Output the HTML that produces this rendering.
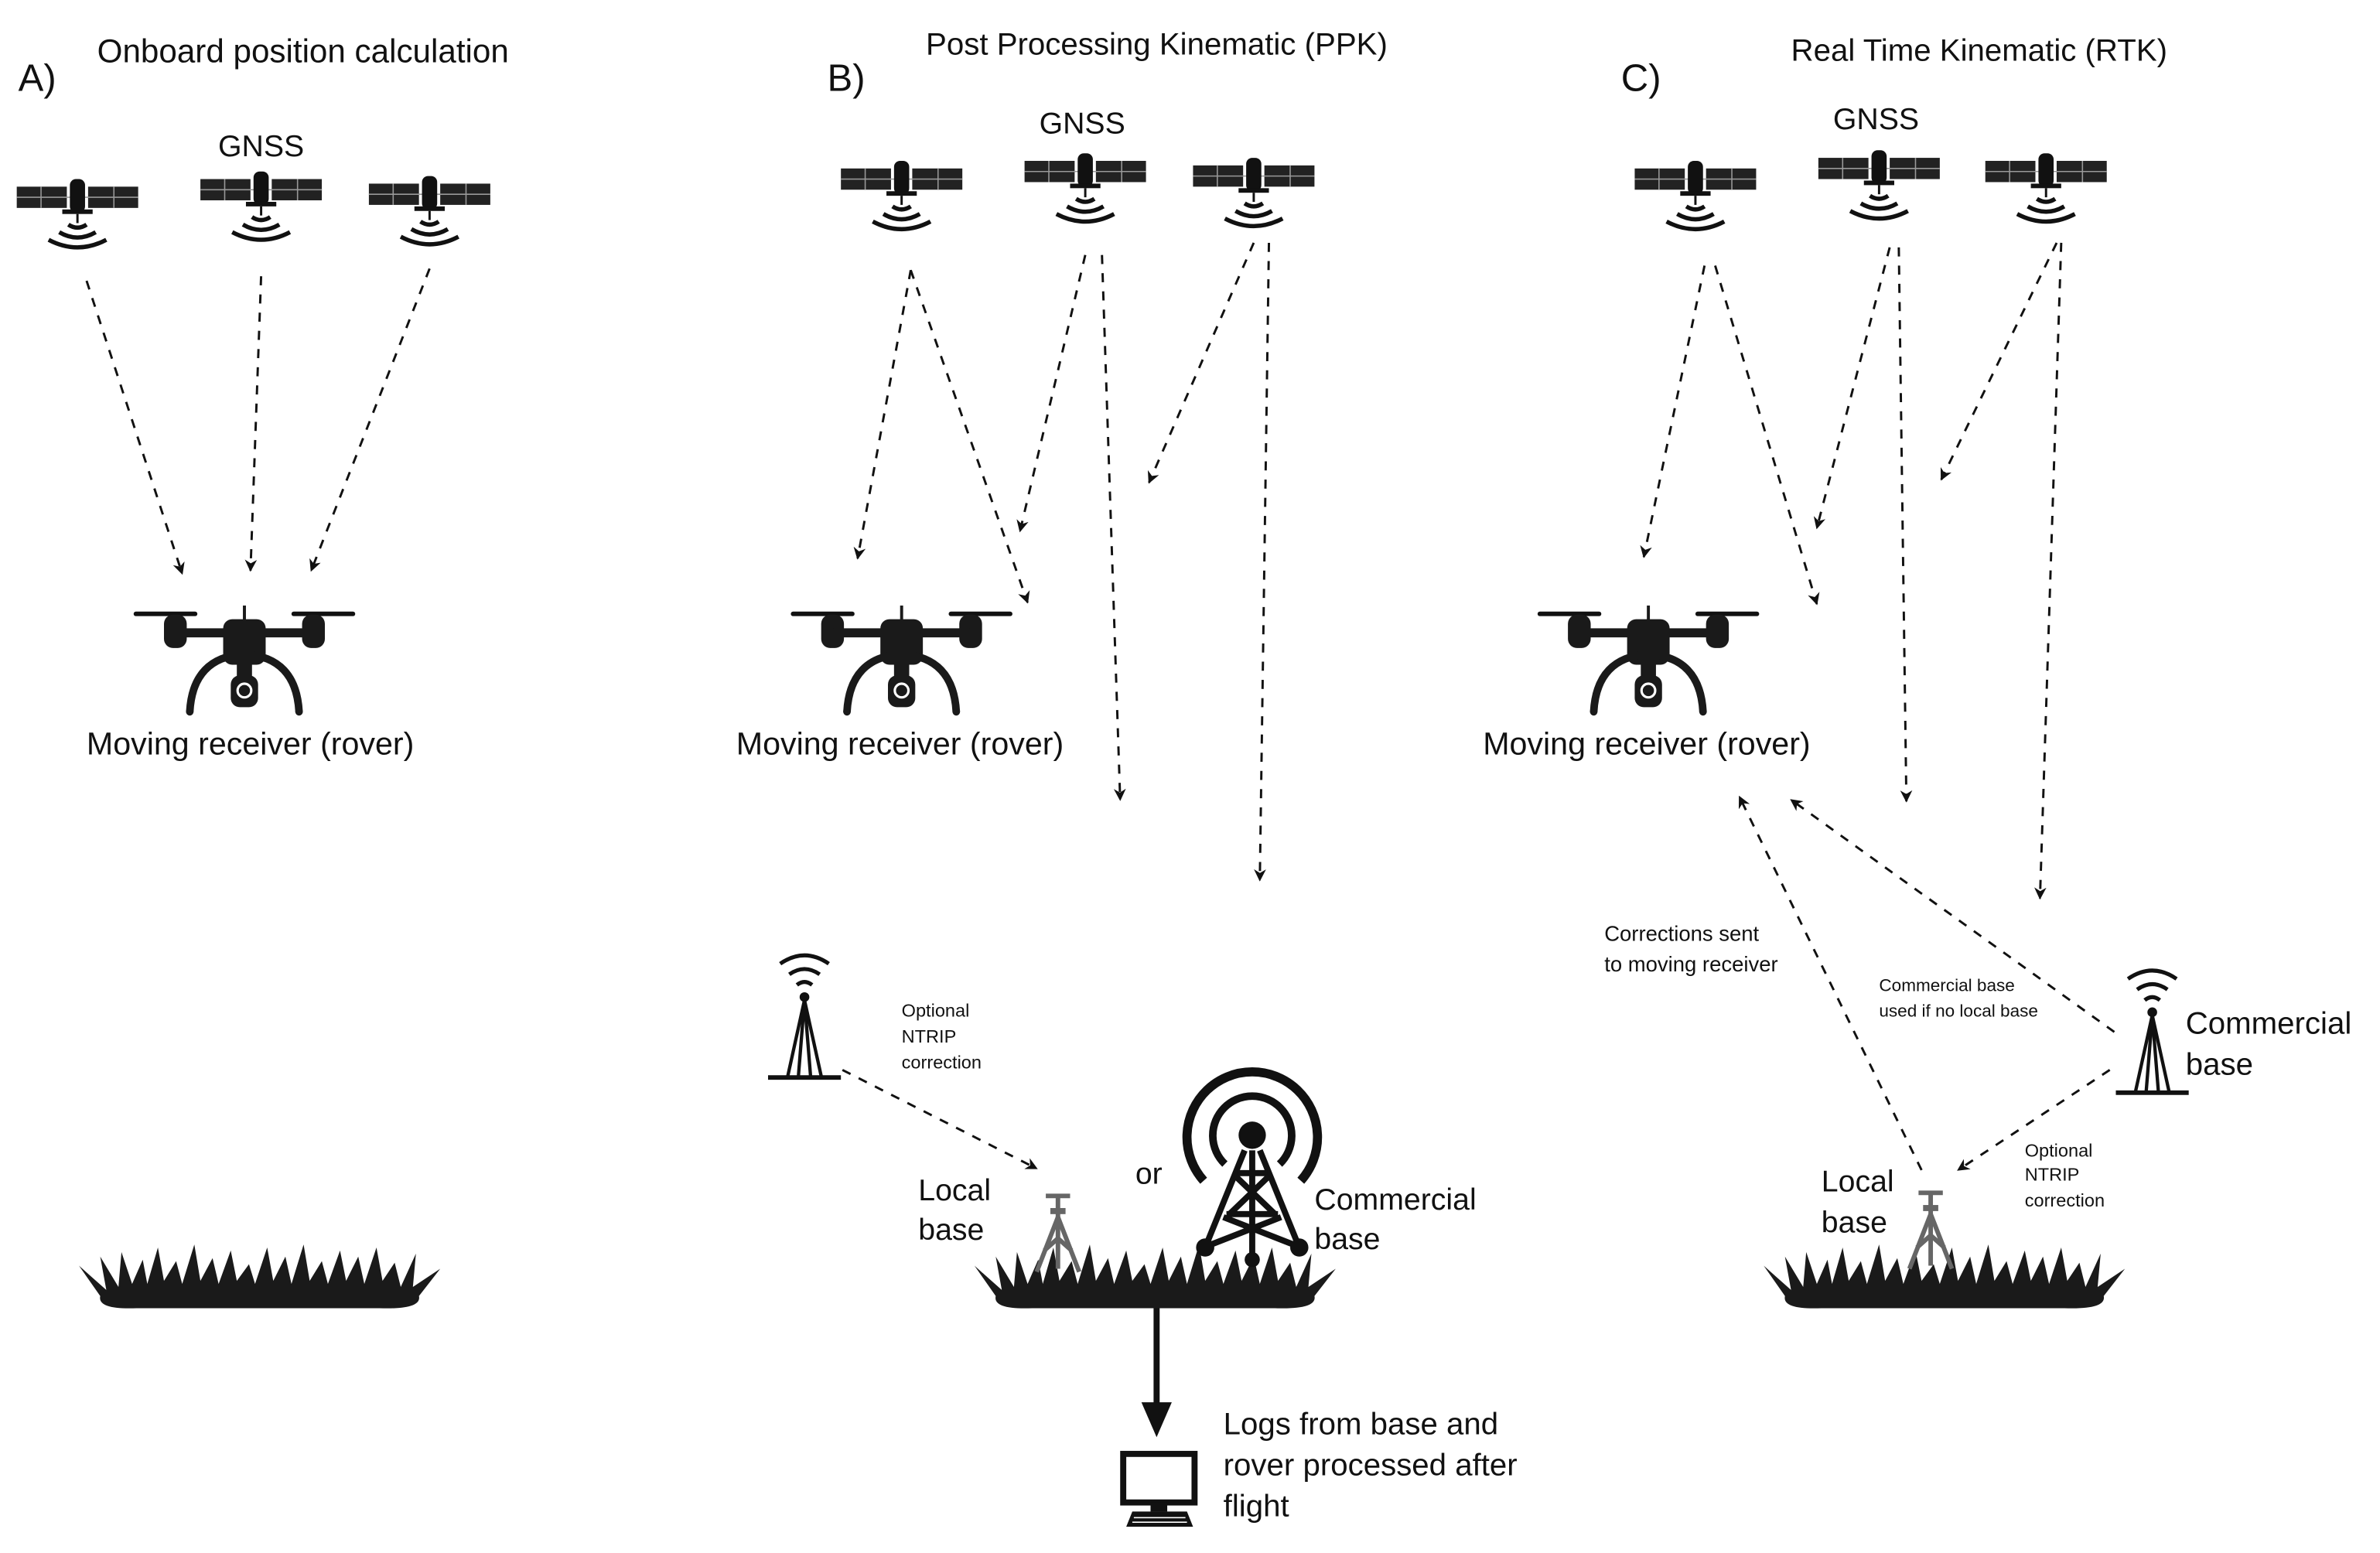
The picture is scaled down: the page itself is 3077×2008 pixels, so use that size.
<!DOCTYPE html>
<html><head><meta charset="utf-8"><style>
html,body{margin:0;padding:0;background:#fff;}
svg{display:block;}
text{font-family:"Liberation Sans",sans-serif;fill:#111;}
</style></head><body>
<svg width="3077" height="2008" viewBox="0 0 1568 1023.3" xmlns="http://www.w3.org/2000/svg">
<defs>
<marker id="ah" viewBox="0 0 10 10" refX="9" refY="5" markerWidth="8" markerHeight="8" orient="auto" markerUnits="userSpaceOnUse">
<path d="M0,0 L10,5 L0,10 L3,5 Z" fill="#111"/></marker>
<g id="sat">
<rect x="-40" y="-7" width="33" height="14" fill="#222"/>
<rect x="7" y="-7" width="33" height="14" fill="#222"/>
<line x1="-40" y1="0" x2="40" y2="0" stroke="#999" stroke-width="0.8"/>
<line x1="-24" y1="-7" x2="-24" y2="7" stroke="#999" stroke-width="0.8"/>
<line x1="24" y1="-7" x2="24" y2="7" stroke="#999" stroke-width="0.8"/>
<rect x="-5" y="-12" width="10" height="22" rx="4" fill="#111"/>
<rect x="-10" y="8" width="20" height="3" fill="#111"/>
<line x1="0" y1="11" x2="0" y2="17" stroke="#111" stroke-width="1.5"/>
<g fill="none" stroke="#111" stroke-width="2.8">
<path d="M-6,18 Q0,22 6,18"/><path d="M-12,23 Q0,30 12,23"/><path d="M-19,28 Q0,38 19,28"/></g>
</g>
<g id="drone">
<rect x="-73" y="-2" width="42" height="3" rx="1.5" fill="#111"/>
<rect x="31" y="-2" width="42" height="3" rx="1.5" fill="#111"/>
<rect x="-53" y="0" width="15" height="22" rx="6" fill="#1a1a1a"/>
<rect x="38" y="0" width="15" height="22" rx="6" fill="#1a1a1a"/>
<line x1="-45" y1="12" x2="45" y2="12" stroke="#1a1a1a" stroke-width="6"/>
<line x1="0" y1="-6" x2="0" y2="4" stroke="#1a1a1a" stroke-width="2"/>
<rect x="-14" y="3" width="28" height="30" rx="6" fill="#1a1a1a"/>
<path d="M-36,64 Q-34,28 0,26 Q34,28 36,64" fill="none" stroke="#1a1a1a" stroke-width="5"/>
<circle cx="-36" cy="64" r="2.5" fill="#1a1a1a"/><circle cx="36" cy="64" r="2.5" fill="#1a1a1a"/>
<rect x="-5" y="30" width="10" height="12" fill="#1a1a1a"/>
<rect x="-9" y="40" width="18" height="21" rx="6" fill="#1a1a1a"/>
<circle cx="0" cy="50" r="4.5" fill="none" stroke="#fff" stroke-width="1.6"/>
</g>
<path id="grass" fill="#1a1a1a" d="M2,12 L20,28 L16,6 L28,26 L30,3 L37,24 L44,8 L47,24 L54,0 L58,22 L66,9 L70,24 L78,-2 L82,22 L90,7 L94,24 L102,2 L106,22 L114,11 L118,24 L126,0 L130,22 L138,6 L142,24 L150,-2 L154,22 L162,9 L166,24 L174,2 L178,22 L186,6 L190,24 L198,0 L202,22 L210,10 L214,26 L224,4 L222,26 L240,14 L226,32 Q228,41 200,40 L40,40 Q14,41 16,32 Z"/>
<g id="ant">
<g fill="none" stroke="#111" stroke-width="2.6">
<path d="M-5,-8 Q0,-12 5,-8"/><path d="M-10,-15 Q0,-22 10,-15"/><path d="M-16,-22 Q0,-33 16,-22"/></g>
<circle cx="0" cy="0" r="3.2" fill="#111"/>
<g stroke="#111" stroke-width="2.2"><line x1="0" y1="2" x2="-11" y2="52"/><line x1="0" y1="2" x2="11" y2="52"/><line x1="0" y1="2" x2="-4" y2="52"/><line x1="0" y1="2" x2="4" y2="52"/></g>
<line x1="-24" y1="53" x2="24" y2="53" stroke="#111" stroke-width="3"/>
</g>
<g id="tripod" stroke="#666" stroke-width="3" fill="none">
<line x1="-8" y1="0" x2="8" y2="0"/><line x1="0" y1="0" x2="0" y2="48"/><rect x="-5" y="8" width="10" height="4" fill="#666" stroke="none"/>
<line x1="0" y1="14" x2="-14" y2="50"/><line x1="0" y1="14" x2="14" y2="50"/>
<path d="M-9,36 L0,28 L9,36"/>
</g>
</defs>

<text x="12" y="60" font-size="25">A)</text>
<text x="64" y="41" font-size="21.5">Onboard position calculation</text>
<text x="545" y="60" font-size="25">B)</text>
<text x="610" y="36" font-size="20.5">Post Processing Kinematic (PPK)</text>
<text x="1068" y="60" font-size="25">C)</text>
<text x="1180" y="40" font-size="20.5">Real Time Kinematic (RTK)</text>

<text x="172" y="103" font-size="20" text-anchor="middle">GNSS</text>
<text x="713" y="88" font-size="20" text-anchor="middle">GNSS</text>
<text x="1236" y="85" font-size="20" text-anchor="middle">GNSS</text>

<use href="#sat" x="51" y="130"/><use href="#sat" x="172" y="125"/><use href="#sat" x="283" y="128"/>
<use href="#sat" x="594" y="118"/><use href="#sat" x="715" y="113"/><use href="#sat" x="826" y="116"/>
<use href="#sat" x="1117" y="118"/><use href="#sat" x="1238" y="111"/><use href="#sat" x="1348" y="113"/>

<use href="#drone" x="161" y="405"/>
<use href="#drone" x="594" y="405"/>
<use href="#drone" x="1086" y="405"/>

<text x="57" y="497" font-size="21">Moving receiver (rover)</text>
<text x="485" y="497" font-size="21">Moving receiver (rover)</text>
<text x="977" y="497" font-size="21">Moving receiver (rover)</text>

<g stroke="#111" stroke-width="1.5" stroke-dasharray="6 6" fill="none" marker-end="url(#ah)">
<line x1="57" y1="185" x2="120" y2="378"/>
<line x1="172" y1="182" x2="165" y2="376"/>
<line x1="283" y1="177" x2="205" y2="376"/>
<line x1="600" y1="178" x2="565" y2="368"/>
<line x1="600" y1="178" x2="677" y2="397"/>
<line x1="715" y1="168" x2="672" y2="350"/>
<line x1="726" y1="168" x2="738" y2="527"/>
<line x1="826" y1="160" x2="757" y2="318"/>
<line x1="836" y1="160" x2="830" y2="580"/>
<line x1="1123" y1="175" x2="1083" y2="367"/>
<line x1="1130" y1="175" x2="1197" y2="398"/>
<line x1="1245" y1="163" x2="1197" y2="348"/>
<line x1="1251" y1="163" x2="1256" y2="528"/>
<line x1="1355" y1="160" x2="1279" y2="316"/>
<line x1="1358" y1="160" x2="1344" y2="592"/>
<line x1="1266" y1="771" x2="1146" y2="525"/>
<line x1="1393" y1="680" x2="1180" y2="527"/>
<line x1="1390" y1="705" x2="1290" y2="771"/>
<line x1="555" y1="705" x2="683" y2="770"/>
</g>

<line x1="762" y1="860" x2="762" y2="928" stroke="#111" stroke-width="4"/>
<path d="M752,924 L772,924 L762,947 Z" fill="#111"/>

<use href="#grass" x="50" y="822"/>
<use href="#grass" x="640" y="822"/>
<use href="#grass" x="1160" y="822"/>

<use href="#ant" x="530" y="657"/>
<use href="#ant" x="1418" y="667"/>

<use href="#tripod" x="697" y="788"/>
<use href="#tripod" x="1272" y="786"/>

<g fill="none" stroke="#111">
<path d="M793,778 A43,43 0 1 1 857,778" stroke-width="6"/>
<path d="M807,767 A26,26 0 1 1 843,767" stroke-width="5"/>
</g>
<circle cx="825" cy="748" r="9" fill="#111"/>
<g stroke="#111" stroke-width="4" fill="none">
<line x1="820" y1="758" x2="794" y2="822"/><line x1="830" y1="758" x2="856" y2="822"/>
<line x1="825" y1="758" x2="825" y2="830"/>
<line x1="815" y1="773" x2="835" y2="773"/>
<path d="M814,775 L840,800 M836,775 L810,800 M808,800 L842,800 M806,802 L852,820 M844,802 L798,820"/>
</g>
<circle cx="794" cy="822" r="6" fill="#111"/><circle cx="856" cy="822" r="6" fill="#111"/><circle cx="825" cy="830" r="5" fill="#111"/>

<rect x="740" y="958" width="47" height="32" fill="#fff" stroke="#111" stroke-width="4"/>
<rect x="758" y="990" width="11" height="6" fill="#111"/>
<path d="M742,1006 L746,996 L782,996 L786,1006 Z" fill="#111"/>
<g stroke="#fff" stroke-width="0.8"><line x1="747" y1="1000" x2="781" y2="1000"/><line x1="746" y1="1003" x2="782" y2="1003"/></g>

<g font-size="12"><text x="594" y="670">Optional</text><text x="594" y="687">NTRIP</text><text x="594" y="704">correction</text></g>
<g font-size="20"><text x="605" y="791">Local</text><text x="605" y="817">base</text></g>
<text x="748" y="780" font-size="20">or</text>
<g font-size="20"><text x="866" y="797">Commercial</text><text x="866" y="823">base</text></g>
<g font-size="20.5"><text x="806" y="945">Logs from base and</text><text x="806" y="972">rover processed after</text><text x="806" y="999">flight</text></g>

<g font-size="14"><text x="1057" y="620">Corrections sent</text><text x="1057" y="640">to moving receiver</text></g>
<g font-size="11.5"><text x="1238" y="653">Commercial base</text><text x="1238" y="670">used if no local base</text></g>
<g font-size="20.5"><text x="1440" y="681">Commercial</text><text x="1440" y="708">base</text></g>
<g font-size="20"><text x="1200" y="785">Local</text><text x="1200" y="812">base</text></g>
<g font-size="12"><text x="1334" y="762">Optional</text><text x="1334" y="778">NTRIP</text><text x="1334" y="795">correction</text></g>
</svg>
</body></html>
